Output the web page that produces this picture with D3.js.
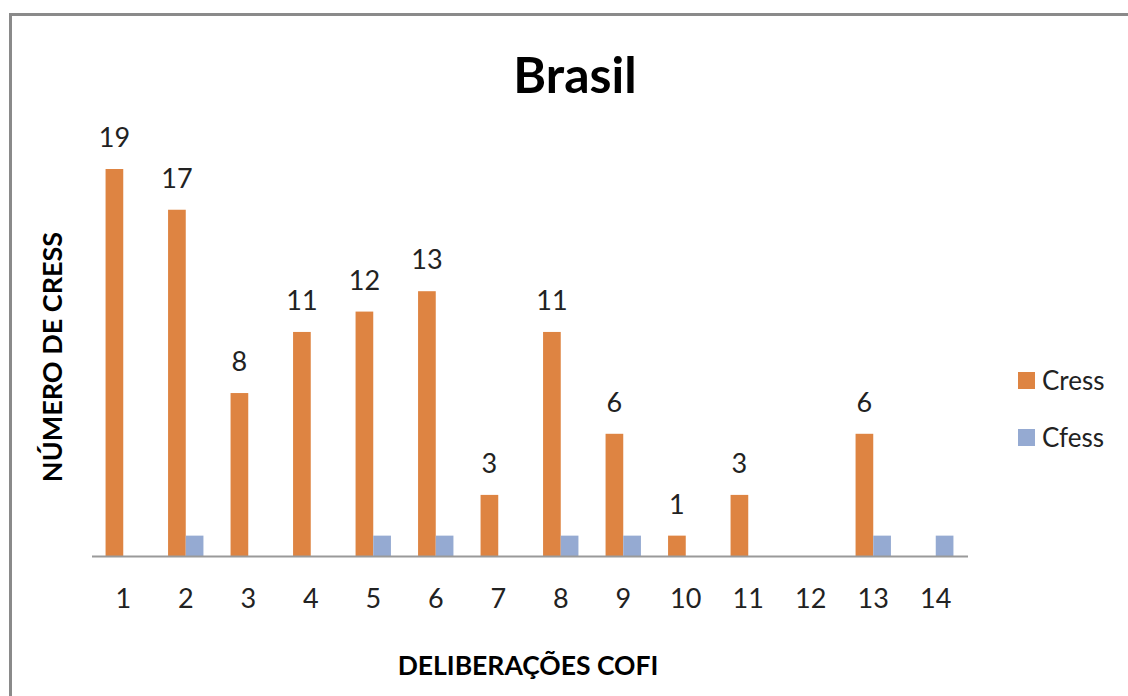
<!DOCTYPE html>
<html>
<head>
<meta charset="utf-8">
<script src="https://cdn.jsdelivr.net/npm/d3@7"></script>
<style>
  html, body { margin: 0; padding: 0; background: #fff; }
  svg { display: block; font-family: Lato, "Open Sans", sans-serif; }
</style>
</head>
<body>
<svg id="chart" width="1128" height="696"></svg>
<script>
const categories = ["1","2","3","4","5","6","7","8","9","10","11","12","13","14"];
const seriesNames = ["Cress","Cfess"];
const cressValues = [19,17,8,11,12,13,3,11,6,1,3,0,6,0];
const cfessValues = [0,1,0,0,1,1,0,1,1,0,0,0,1,1];
const colors = {Cress: "#DE8442", Cfess: "#95AAD2"};

const svg = d3.select("#chart");

// frame
svg.append("path")
  .attr("d", "M10.5,696 L10.5,14.5 L1128,14.5")
  .attr("fill", "none").attr("stroke", "#8a8a8a").attr("stroke-width", 3);

const x = d3.scaleBand().domain(categories).range([92, 967])
  .paddingInner(0.434).paddingOuter(0.217);
const xs = d3.scaleBand().domain(seriesNames).range([0, x.bandwidth()]);
const y = d3.scaleLinear().domain([0, 19]).range([556, 169]);

const data = categories.map((c, i) => ({cat: c, Cress: cressValues[i], Cfess: cfessValues[i]}));

const g = svg.append("g");
seriesNames.forEach(s => {
  g.selectAll(null).data(data.filter(d => d[s] > 0)).join("rect")
    .attr("x", d => x(d.cat) + xs(s))
    .attr("y", d => y(d[s]))
    .attr("width", xs.bandwidth())
    .attr("height", d => y(0) - y(d[s]))
    .attr("fill", colors[s]);
});

// baseline axis
svg.append("line")
  .attr("x1", 92).attr("x2", 968).attr("y1", y(0) + 0.5).attr("y2", y(0) + 0.5)
  .attr("stroke", "#9a9a9a").attr("stroke-width", 2);

// data labels (Cress)
svg.selectAll(null).data(data.filter(d => d.Cress > 0)).join("text")
  .attr("x", d => x(d.cat) + xs("Cress") + xs.bandwidth() / 2)
  .attr("y", d => y(d.Cress) - 22)
  .attr("text-anchor", "middle")
  .attr("font-size", 27).attr("fill", "#222")
  .text(d => d.Cress);

// tick labels
svg.selectAll(null).data(categories).join("text")
  .attr("x", d => x(d) + x.bandwidth() / 2)
  .attr("y", 608)
  .attr("text-anchor", "middle")
  .attr("font-size", 27).attr("fill", "#222")
  .text(d => d);

// title
svg.append("text").attr("x", 575).attr("y", 93).attr("text-anchor", "middle")
  .attr("font-size", 50).attr("font-weight", "bold").attr("fill", "#000").text("Brasil");

// x-axis title
svg.append("text").attr("x", 528).attr("y", 675).attr("text-anchor", "middle")
  .attr("font-size", 26.5).attr("font-weight", "bold").attr("fill", "#000").text("DELIBERAÇÕES COFI");

// y-axis title
svg.append("text").attr("transform", "translate(62,357) rotate(-90)").attr("text-anchor", "middle")
  .attr("font-size", 27).attr("font-weight", "bold").attr("fill", "#000").text("NÚMERO DE CRESS");

// legend
const leg = svg.append("g");
seriesNames.forEach((s, i) => {
  leg.append("rect").attr("x", 1018).attr("y", 372 + i * 57).attr("width", 17).attr("height", 17)
    .attr("fill", colors[s]);
  leg.append("text").attr("x", 1042).attr("y", 390 + i * 57)
    .attr("font-size", 26).attr("fill", "#222").text(s);
});
</script>
</body>
</html>
